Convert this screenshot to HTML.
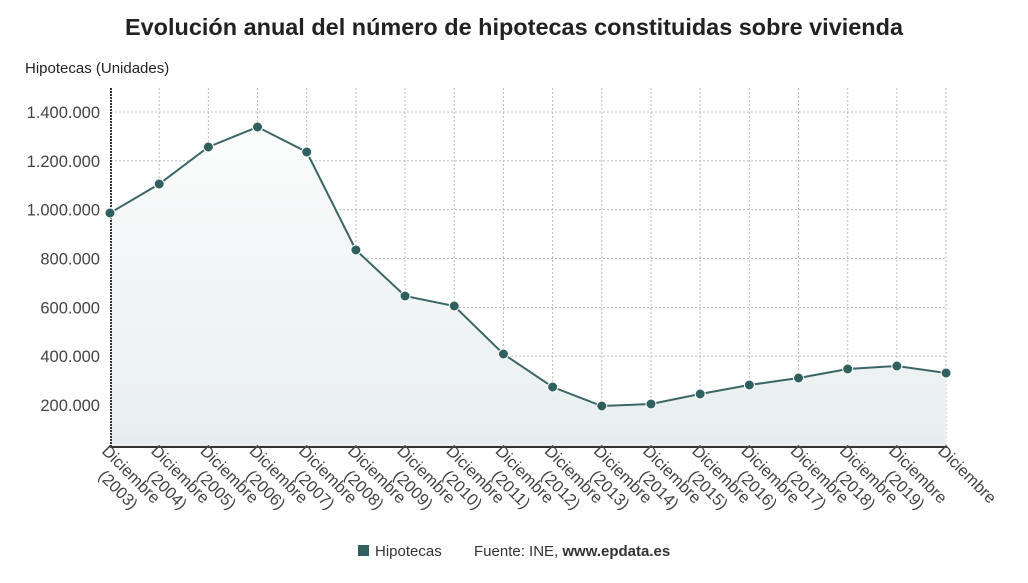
<!DOCTYPE html>
<html><head><meta charset="utf-8"><style>
body{margin:0;background:#fff;width:1028px;height:578px;overflow:hidden}
svg{font-family:"Liberation Sans",sans-serif}
</style></head><body>
<svg width="1028" height="578" viewBox="0 0 1028 578">
<defs><linearGradient id="g" x1="0" y1="0" x2="0" y2="1"><stop offset="0" stop-color="#fbfcfc"/><stop offset="1" stop-color="#e8eeef"/></linearGradient></defs>
<text x="514" y="35" text-anchor="middle" font-size="23" font-weight="bold" fill="#222" textLength="778" lengthAdjust="spacingAndGlyphs">Evolución anual del número de hipotecas constituidas sobre vivienda</text>
<text x="25" y="73" font-size="15" fill="#222">Hipotecas (Unidades)</text>
<g id="grid" stroke="#bbb" stroke-dasharray="2,2" stroke-width="1"></g>
<path id="area" fill="url(#g)"></path>
<g id="ylab" font-size="16.5" fill="#444" text-anchor="end"></g>
<line x1="111" y1="88" x2="111" y2="447" stroke="#333" stroke-width="2" stroke-dasharray="2,1"/>
<line x1="110" y1="447" x2="947" y2="447" stroke="#333" stroke-width="2"/>
<polyline id="line" fill="none" stroke="#3a6666" stroke-width="2"></polyline>
<g id="dots" fill="#2f5f5f" stroke="#fff" stroke-width="1"></g>
<g id="xlab" font-size="16.5" fill="#444"></g>
<rect x="358" y="545" width="11" height="11" fill="#2f5f5f"/>
<text x="375" y="556" font-size="15" fill="#333">Hipotecas</text>
<text x="474" y="556" font-size="15" fill="#333">Fuente: INE, <tspan font-weight="bold">www.epdata.es</tspan></text>
</svg>
<script>
const ns="http://www.w3.org/2000/svg";
const ys=[213,184,147,127,152,250,296,306,354,387,406,404,394,385,378,369,366,373];
const X=i=>110+i*49.18;
function el(t,a,p,txt){const e=document.createElementNS(ns,t);for(const k in a)e.setAttribute(k,a[k]);if(txt)e.textContent=txt;document.getElementById(p).appendChild(e);return e;}
const labs=["1.400.000","1.200.000","1.000.000","800.000","600.000","400.000","200.000"];
labs.forEach((l,i)=>{const y=112+i*48.83;el("line",{x1:111,x2:946,y1:y,y2:y},"grid");el("text",{x:100,y:y+6},"ylab",l);});
for(let i=1;i<18;i++)el("line",{x1:X(i),x2:X(i),y1:88,y2:447},"grid");
let pts=ys.map((y,i)=>X(i)+","+y).join(" ");
document.getElementById("line").setAttribute("points",pts);
document.getElementById("area").setAttribute("d","M110,447 L"+ys.map((y,i)=>X(i)+","+y).join(" L")+" L"+X(17)+",447Z");
ys.forEach((y,i)=>{el("circle",{cx:X(i),cy:y,r:5},"dots");
const t=el("text",{transform:`translate(${X(i)-9},452) rotate(45)`},"xlab");
const a=document.createElementNS(ns,"tspan");a.setAttribute("x",0);a.setAttribute("y",0);a.textContent="Diciembre";t.appendChild(a);
if(i<17){const b=document.createElementNS(ns,"tspan");b.setAttribute("x",15);b.setAttribute("y",20);b.textContent="("+(2003+i)+")";t.appendChild(b);}
});
</script>
</body></html>
